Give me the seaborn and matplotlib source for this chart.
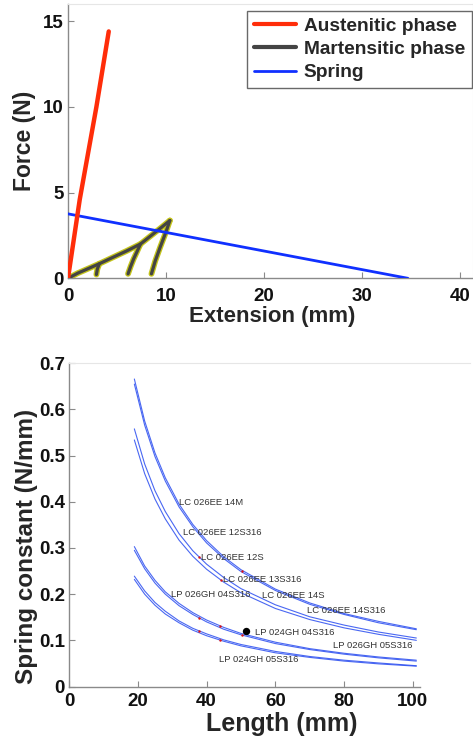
import matplotlib
matplotlib.use("Agg")
import matplotlib.pyplot as plt
import seaborn as sns
import pandas as pd
from matplotlib.lines import Line2D

# ---------------- data: top panel ----------------
aus_x = [0, 1.2, 2.9, 4.16]
aus_y = [0, 4.6, 10.0, 14.4]

spring_x = [0, 34.7]
spring_y = [3.76, 0]

mart_load_x = [0, 1.0, 2.0, 3.2, 4.5, 6.0, 7.4, 8.5, 9.5, 10.4]
mart_load_y = [0, 0.3, 0.55, 0.85, 1.2, 1.6, 2.0, 2.5, 2.95, 3.37]
mart_un1_x = [3.2, 3.0, 2.9]
mart_un1_y = [0.85, 0.55, 0.22]
mart_un2_x = [7.4, 7.0, 6.7, 6.4, 6.13]
mart_un2_y = [2.0, 1.5, 1.13, 0.7, 0.26]
mart_un3_x = [10.4, 10.0, 9.4, 8.9, 8.52]
mart_un3_y = [3.37, 2.7, 1.8, 1.0, 0.26]

legend_labels = ["Austenitic phase", "Martensitic phase", "Spring"]

# ---------------- data: bottom panel ----------------
length = [19, 22, 25, 28, 32, 36, 40, 45, 50, 60, 70, 80, 90, 101]
k_1a = [0.666, 0.575, 0.506, 0.452, 0.395, 0.351, 0.316, 0.281, 0.253, 0.211, 0.181, 0.158, 0.141, 0.125]
k_1b = [0.655, 0.566, 0.498, 0.445, 0.389, 0.346, 0.311, 0.277, 0.249, 0.208, 0.178, 0.156, 0.138, 0.123]
k_2a = [0.558, 0.482, 0.424, 0.379, 0.331, 0.294, 0.265, 0.236, 0.212, 0.177, 0.151, 0.133, 0.118, 0.105]
k_2b = [0.534, 0.461, 0.406, 0.363, 0.317, 0.282, 0.254, 0.226, 0.203, 0.169, 0.145, 0.127, 0.113, 0.100]
k_3a = [0.303, 0.261, 0.230, 0.205, 0.180, 0.160, 0.144, 0.128, 0.115, 0.096, 0.082, 0.072, 0.064, 0.057]
k_3b = [0.295, 0.255, 0.224, 0.200, 0.175, 0.156, 0.140, 0.124, 0.112, 0.093, 0.080, 0.070, 0.062, 0.055]
k_4a = [0.239, 0.207, 0.182, 0.163, 0.142, 0.126, 0.114, 0.101, 0.091, 0.076, 0.065, 0.057, 0.051, 0.045]
k_4b = [0.232, 0.200, 0.176, 0.157, 0.138, 0.122, 0.110, 0.098, 0.088, 0.073, 0.063, 0.055, 0.049, 0.044]

red_x = [37.7, 44.1, 50.2, 37.7, 44.0, 50.2, 37.7, 44.0]
red_y = [0.280, 0.231, 0.251, 0.149, 0.130, 0.111, 0.120, 0.100]
black_x = [51.5]
black_y = [0.120]

spring_names = ["LC 026EE 14M", "LC 026EE 12S316", "LC 026EE 12S", "LC 026EE 13S316",
                "LP 026GH 04S316", "LC 026EE 14S", "LC 026EE 14S316", "LP 024GH 04S316",
                "LP 026GH 05S316", "LP 024GH 05S316"]
name_x = [32.0, 33.1, 38.4, 44.7, 29.8, 56.2, 69.2, 54.0, 76.7, 43.5]
name_y = [0.398, 0.333, 0.279, 0.231, 0.200, 0.197, 0.164, 0.117, 0.088, 0.058]

# ---------------- style ----------------
sns.set_theme(style="white")
plt.rcParams['font.family'] = ['Liberation Sans', 'DejaVu Sans']
plt.rcParams['xtick.direction'] = 'in'
plt.rcParams['ytick.direction'] = 'in'

RED = '#ff2d0a'
BLUE = '#1030ff'
GRAY = '#444444'
YEL = '#c4c41a'

fig = plt.figure(figsize=(4.73, 7.4), dpi=100)
ax1 = fig.add_axes([68 / 473, 1 - 278.3 / 740, (473 - 68) / 473 - 0.001, (278.3 - 4) / 740])
ax2 = fig.add_axes([69 / 473, 1 - 686.5 / 740, (470 - 69) / 473, (686.5 - 363.3) / 740])


def style_axes(ax, xpad):
    for s in ['left', 'bottom']:
        ax.spines[s].set_color('#8a8a8a')
        ax.spines[s].set_linewidth(1.0)
    for s in ['top', 'right']:
        ax.spines[s].set_color('#e6e6e6')
        ax.spines[s].set_linewidth(0.8)
    ax.tick_params(axis='both', which='both', direction='in', length=4, width=0.8,
                   color='#8a8a8a', labelsize=13.5, bottom=True, left=True)
    ax.tick_params(axis='x', pad=xpad)
    ax.tick_params(axis='y', pad=3)
    for lab in ax.get_xticklabels() + ax.get_yticklabels():
        lab.set_fontweight('bold')
        lab.set_color('#111111')


# ---------------- top panel ----------------
def seg(ax, xs, ys, color, lw, z):
    d = pd.DataFrame({'x': xs, 'y': ys})
    sns.lineplot(data=d, x='x', y='y', ax=ax, color=color, linewidth=lw,
                 sort=False, estimator=None, zorder=z, solid_capstyle='round')


mart_segments = [(mart_load_x, mart_load_y), (mart_un1_x, mart_un1_y),
                 (mart_un2_x, mart_un2_y), (mart_un3_x, mart_un3_y)]
for xs, ys in mart_segments:
    seg(ax1, xs, ys, YEL, 4.2, 2)
for xs, ys in mart_segments:
    seg(ax1, xs, ys, GRAY, 2.3, 3)
seg(ax1, spring_x, spring_y, BLUE, 2.0, 4)
seg(ax1, aus_x, aus_y, RED, 3.2, 5)

ax1.set_xlim(0, 41.3)
ax1.set_ylim(0, 16)
ax1.set_xticks([0, 10, 20, 30, 40])
ax1.set_yticks([0, 5, 10, 15])
ax1.set_xlabel("Extension (mm)", fontsize=16, fontweight='bold')
ax1.set_ylabel("Force (N)", fontsize=16.5, fontweight='bold')
ax1.xaxis.set_label_coords((272.5 - 68) / 405, -(306 - 278.3) / 274.3)
ax1.yaxis.set_label_coords(-(68 - 36) / 405, (278.3 - 141) / 274.3)
style_axes(ax1, 7)

handles = [Line2D([], [], color=RED, lw=3), Line2D([], [], color=GRAY, lw=3),
           Line2D([], [], color=BLUE, lw=2)]
leg = ax1.legend(handles, legend_labels, loc='upper right', bbox_to_anchor=(0.9985, 0.975),
                 prop={'weight': 'bold', 'size': 13.8, 'family': 'Liberation Sans'},
                 frameon=True, fancybox=False, handlelength=2.2, handletextpad=0.4,
                 labelspacing=0.3, borderpad=0.35, borderaxespad=0.0)
leg.get_frame().set_edgecolor('#444444')
leg.get_frame().set_linewidth(1.0)

# ---------------- bottom panel ----------------
curve_list = [k_1a, k_1b, k_2a, k_2b, k_3a, k_3b, k_4a, k_4b]
for kk in curve_list:
    d = pd.DataFrame({'L': length, 'k': kk})
    sns.lineplot(data=d, x='L', y='k', ax=ax2, color='#2a4df0', linewidth=0.8,
                 estimator=None, zorder=2, alpha=0.85)

sns.scatterplot(x=red_x, y=red_y, ax=ax2, color='#e01010', s=3, linewidth=0, zorder=3)
sns.scatterplot(x=black_x, y=black_y, ax=ax2, color='black', s=28, linewidth=0, zorder=4)

for name, tx, ty in zip(spring_names, name_x, name_y):
    ax2.text(tx, ty, name, fontsize=6.8, color='#333333', ha='left', va='center', zorder=5)

ax2.set_xlim(0, 116.6)
ax2.set_ylim(0, 0.7)
ax2.set_xticks([0, 20, 40, 60, 80, 100])
ax2.set_yticks([0, 0.1, 0.2, 0.3, 0.4, 0.5, 0.6, 0.7])
ax2.set_yticklabels(["0", "0.1", "0.2", "0.3", "0.4", "0.5", "0.6", "0.7"])
ax2.spines['bottom'].set_bounds(0, 102)
ax2.spines['right'].set_visible(False)
ax2.set_xlabel("Length (mm)", fontsize=18, fontweight='bold')
ax2.set_ylabel("Spring constant (N/mm)", fontsize=17.5, fontweight='bold')
ax2.xaxis.set_label_coords((281.7 - 69) / 401, -(712 - 686.5) / 323.2)
ax2.yaxis.set_label_coords(-(69 - 38.5) / 401, (686.5 - 546) / 323.2)
style_axes(ax2, 5)

fig.savefig("out.png", dpi=100)
